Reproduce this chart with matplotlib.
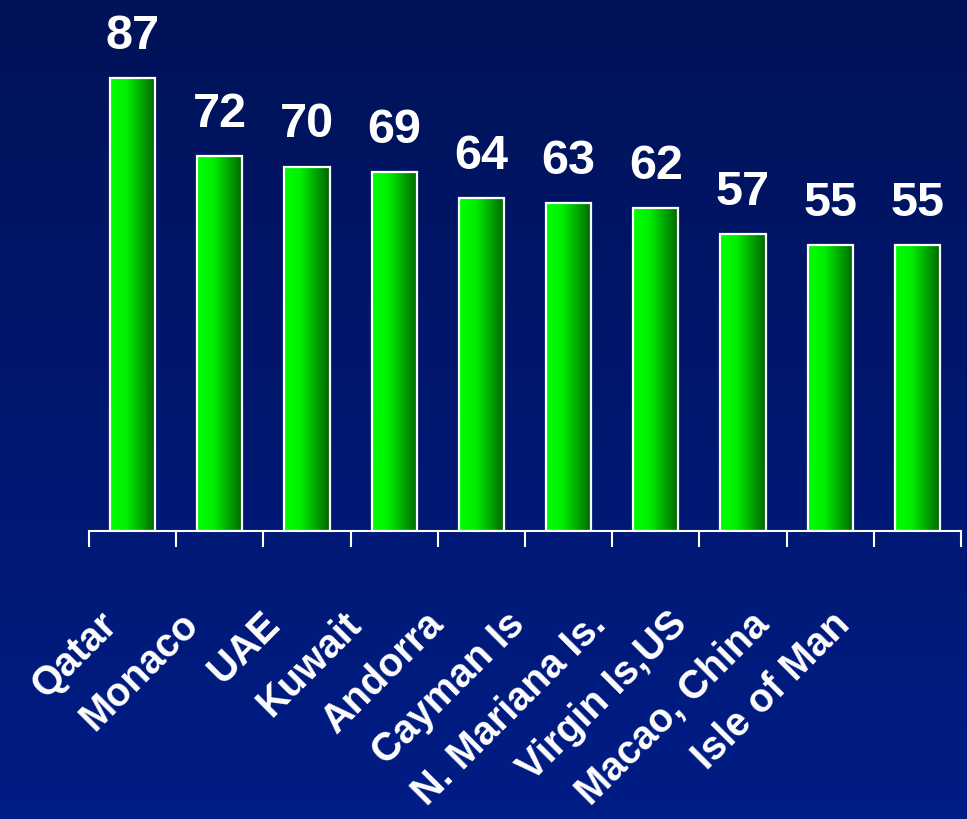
import numpy as np
import matplotlib
matplotlib.use("Agg")
from matplotlib import pyplot as plt
from matplotlib.colors import LinearSegmentedColormap
from matplotlib import transforms

countries = ["Qatar", "Monaco", "UAE", "Kuwait", "Andorra", "Cayman Is",
             "N. Mariana Is.", "Virgin Is,US", "Macao, China", "Isle of Man"]
values = [87, 72, 70, 69, 64, 63, 62, 57, 55, 55]

plt.rcParams["font.family"] = ["Liberation Sans", "DejaVu Sans"]
plt.rcParams["font.weight"] = "bold"

fig = plt.figure(figsize=(9.67, 8.19), dpi=100)

# navy background, a little lighter towards the bottom
bg = fig.add_axes([0, 0, 1, 1], zorder=-10)
bg_cmap = LinearSegmentedColormap.from_list("bg", ["#001258", "#001d86"])
bg.imshow(np.linspace(0, 1, 256).reshape(-1, 1), cmap=bg_cmap, aspect="auto",
          extent=[0, 1, 0, 1], origin="upper")
bg.set_axis_off()

ax = fig.add_axes([89 / 967, 288 / 819, 872 / 967, 531 / 819])
ax.patch.set_alpha(0)

bar_cmap = LinearSegmentedColormap.from_list(
    "bar", [(0.0, "#00ff00"), (0.35, "#00f000"), (1.0, "#006400")])
grad = np.linspace(0, 1, 128).reshape(1, -1)

x = np.arange(len(countries))
w = 0.52
bars = ax.bar(x, values, width=w, facecolor="none", edgecolor="white",
              linewidth=1.6, zorder=3)
for rect in bars:
    x0 = rect.get_x()
    ax.imshow(grad, cmap=bar_cmap, aspect="auto", zorder=2,
              extent=[x0, x0 + rect.get_width(), 0, rect.get_height()])

for xi, v in zip(x, values):
    ax.annotate(str(v), xy=(xi, v), xytext=(0, 21), textcoords="offset points",
                ha="center", va="baseline", color="white", fontsize=35,
                fontweight="bold")

# slanted category names under the axis
tr = ax.get_xaxis_transform() + transforms.ScaledTranslation(
    0, -53 / 72, fig.dpi_scale_trans)
for i, name in enumerate(countries):
    ax.text(i - 0.4 - 0.066 * i, 0, name, transform=tr, rotation=45,
            rotation_mode="anchor", ha="right", va="top", color="white",
            fontsize=28.5, fontweight="bold")

ax.set_xlim(-0.5, len(countries) - 0.5)
ax.set_ylim(0, 102)
ax.set_xticks(np.arange(-0.5, len(countries)))
ax.set_xticklabels([])
ax.set_yticks([])
ax.tick_params(axis="x", direction="out", length=11.5, width=1.5, color="white")
for side in ["top", "left", "right"]:
    ax.spines[side].set_visible(False)
ax.spines["bottom"].set_color("white")
ax.spines["bottom"].set_linewidth(1.5)

fig.savefig("out.png", dpi=100)
